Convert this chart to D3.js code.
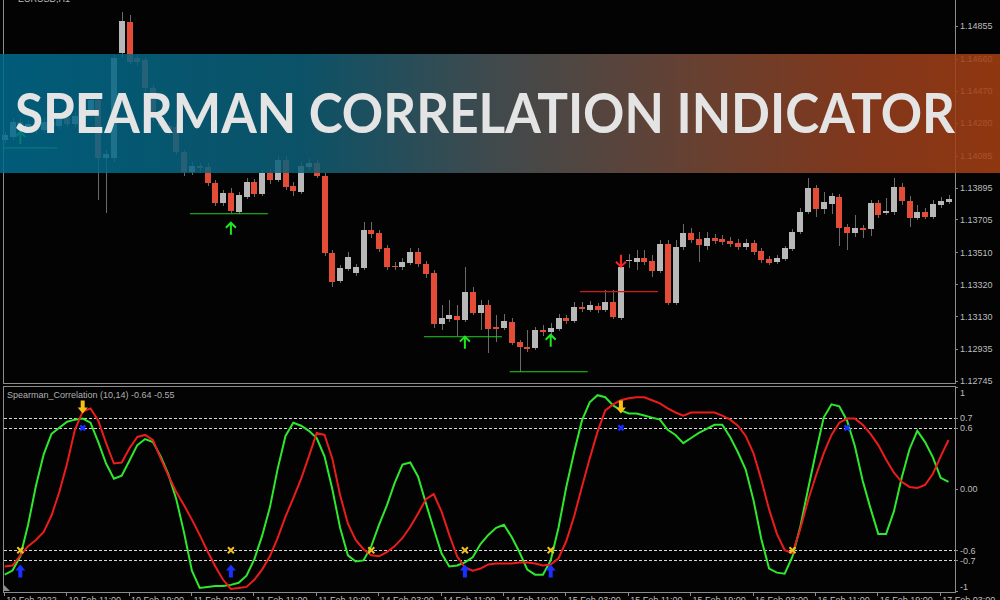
<!DOCTYPE html>

<head>
    <script src="https://d3js.org/d3.v7.min.js"></script>
</head>

<body style="margin: 0; background: #000">
    <svg width="1000" height="600"></svg>

    <script>
        // EURUSD H1 bars, 10 Feb 2022 03:00 onwards
        var opens = [1.14178, 1.14196, 1.14285, 1.14250, 1.14273, 1.14238, 1.14285, 1.14262, 1.14309, 1.14273,
            1.14321, 1.14357, 1.14416, 1.14072, 1.14072, 1.14695, 1.14879, 1.14666, 1.14654, 1.14487,
            1.14309, 1.14262, 1.14256, 1.14107, 1.13988, 1.14024, 1.14018, 1.13923, 1.13804, 1.13864,
            1.13751, 1.13840, 1.13929, 1.13858, 1.13982, 1.13941, 1.14060, 1.13905, 1.13870, 1.14018,
            1.14042, 1.13965, 1.13507, 1.13341, 1.13412, 1.13388, 1.13418, 1.13644, 1.13626, 1.13537,
            1.13430, 1.13424, 1.13448, 1.13513, 1.13442, 1.13388, 1.13085, 1.13115, 1.13133, 1.13109,
            1.13276, 1.13151, 1.13198, 1.13068, 1.13062, 1.13097, 1.12979, 1.12949, 1.12943, 1.13050,
            1.13038, 1.13056, 1.13121, 1.13103, 1.13186, 1.13169, 1.13192, 1.13169, 1.13216, 1.13121,
            1.13460, 1.13454, 1.13478, 1.13460, 1.13400, 1.13561, 1.13210, 1.13543, 1.13626, 1.13590,
            1.13549, 1.13596, 1.13590, 1.13579, 1.13567, 1.13543, 1.13567, 1.13519, 1.13472, 1.13454,
            1.13472, 1.13531, 1.13632, 1.13751, 1.13893, 1.13769, 1.13798, 1.13840, 1.13662, 1.13626,
            1.13656, 1.13650, 1.13804, 1.13745, 1.13751, 1.13899, 1.13816, 1.13715, 1.13751, 1.13721,
            1.13792, 1.13810];

        var highs = [1.14226, 1.14309, 1.14309, 1.14297, 1.14291, 1.14309, 1.14315, 1.14333, 1.14327, 1.14345,
            1.14380, 1.14440, 1.14440, 1.14119, 1.14683, 1.14939, 1.14921, 1.14683, 1.14671, 1.14505,
            1.14333, 1.14285, 1.14273, 1.14119, 1.14048, 1.14042, 1.14042, 1.13941, 1.13881, 1.13893,
            1.13870, 1.13953, 1.13947, 1.14000, 1.14006, 1.14083, 1.14083, 1.13929, 1.14048, 1.14066,
            1.14060, 1.13982, 1.13525, 1.13436, 1.13513, 1.13442, 1.13691, 1.13691, 1.13644, 1.13555,
            1.13454, 1.13478, 1.13537, 1.13537, 1.13460, 1.13406, 1.13198, 1.13228, 1.13198, 1.13424,
            1.13305, 1.13228, 1.13228, 1.13139, 1.13145, 1.13121, 1.12990, 1.13050, 1.13068, 1.13080,
            1.13091, 1.13145, 1.13139, 1.13216, 1.13216, 1.13222, 1.13210, 1.13287, 1.13287, 1.13495,
            1.13501, 1.13525, 1.13525, 1.13495, 1.13584, 1.13584, 1.13584, 1.13679, 1.13656, 1.13632,
            1.13632, 1.13620, 1.13614, 1.13602, 1.13590, 1.13590, 1.13584, 1.13537, 1.13489, 1.13495,
            1.13549, 1.13650, 1.13775, 1.13953, 1.13911, 1.13870, 1.13864, 1.13858, 1.13679, 1.13733,
            1.13674, 1.13822, 1.13822, 1.13834, 1.13953, 1.13923, 1.13846, 1.13792, 1.13775, 1.13822,
            1.13840, 1.13852];

        var lows = [1.14161, 1.14178, 1.14226, 1.14232, 1.14214, 1.14220, 1.14238, 1.14244, 1.14256, 1.14256,
            1.14303, 1.14339, 1.13822, 1.13745, 1.14048, 1.14666, 1.14630, 1.14618, 1.14464, 1.14285,
            1.14238, 1.14208, 1.14089, 1.13965, 1.13970, 1.13988, 1.13905, 1.13786, 1.13786, 1.13745,
            1.13739, 1.13828, 1.13840, 1.13846, 1.13917, 1.13929, 1.13881, 1.13846, 1.13858, 1.14000,
            1.13953, 1.13489, 1.13305, 1.13329, 1.13400, 1.13371, 1.13406, 1.13596, 1.13513, 1.13406,
            1.13406, 1.13406, 1.13436, 1.13424, 1.13359, 1.13062, 1.13050, 1.13097, 1.13014, 1.13097,
            1.13139, 1.13050, 1.12913, 1.12979, 1.13050, 1.12961, 1.12800, 1.12919, 1.12931, 1.13014,
            1.13020, 1.13044, 1.13085, 1.13091, 1.13157, 1.13157, 1.13151, 1.13157, 1.13115, 1.13109,
            1.13418, 1.13406, 1.13436, 1.13365, 1.13388, 1.13198, 1.13198, 1.13525, 1.13567, 1.13454,
            1.13525, 1.13561, 1.13555, 1.13543, 1.13525, 1.13525, 1.13495, 1.13448, 1.13436, 1.13442,
            1.13460, 1.13519, 1.13620, 1.13739, 1.13721, 1.13739, 1.13739, 1.13549, 1.13525, 1.13602,
            1.13596, 1.13608, 1.13715, 1.13733, 1.13733, 1.13792, 1.13662, 1.13703, 1.13709, 1.13709,
            1.13775, 1.13798];

        var closes = [1.14208, 1.14285, 1.14250, 1.14273, 1.14238, 1.14285, 1.14262, 1.14309, 1.14273, 1.14321,
            1.14357, 1.14416, 1.14072, 1.14095, 1.14666, 1.14885, 1.14642, 1.14642, 1.14487, 1.14309,
            1.14262, 1.14238, 1.14107, 1.13988, 1.14024, 1.14012, 1.13923, 1.13804, 1.13864, 1.13757,
            1.13852, 1.13929, 1.13858, 1.13982, 1.13941, 1.14060, 1.13899, 1.13876, 1.14024, 1.14042,
            1.13965, 1.13507, 1.13335, 1.13418, 1.13483, 1.13424, 1.13644, 1.13620, 1.13531, 1.13424,
            1.13424, 1.13454, 1.13513, 1.13442, 1.13382, 1.13085, 1.13121, 1.13139, 1.13109, 1.13276,
            1.13151, 1.13198, 1.13056, 1.13056, 1.13103, 1.12973, 1.12949, 1.12937, 1.13050, 1.13038,
            1.13062, 1.13121, 1.13103, 1.13186, 1.13175, 1.13198, 1.13169, 1.13216, 1.13127, 1.13424,
            1.13466, 1.13478, 1.13454, 1.13400, 1.13561, 1.13210, 1.13543, 1.13626, 1.13584, 1.13555,
            1.13596, 1.13579, 1.13573, 1.13561, 1.13543, 1.13567, 1.13513, 1.13466, 1.13448, 1.13478,
            1.13537, 1.13632, 1.13751, 1.13893, 1.13769, 1.13810, 1.13846, 1.13656, 1.13626, 1.13656,
            1.13644, 1.13804, 1.13733, 1.13757, 1.13899, 1.13816, 1.13715, 1.13751, 1.13721, 1.13798,
            1.13816, 1.13828];

        // Spearman correlation, fast (green) and slow (red)
        var fastCorr = [-0.84, -0.80, -0.66, -0.35, 0.03, 0.34, 0.54, 0.60, 0.66, 0.68,
            0.69, 0.65, 0.46, 0.25, 0.10, 0.13, 0.28, 0.43, 0.49, 0.46,
            0.32, 0.14, -0.10, -0.43, -0.80, -0.97, -0.96, -0.95, -0.95, -0.94,
            -0.92, -0.85, -0.69, -0.46, -0.18, 0.20, 0.52, 0.65, 0.62, 0.57,
            0.50, 0.32, 0.00, -0.38, -0.65, -0.71, -0.70, -0.56, -0.35, -0.16,
            0.06, 0.24, 0.26, 0.12, -0.14, -0.39, -0.63, -0.76, -0.75, -0.72,
            -0.67, -0.54, -0.45, -0.38, -0.35, -0.47, -0.62, -0.79, -0.84, -0.84,
            -0.70, -0.38, 0.02, 0.36, 0.67, 0.85, 0.92, 0.90, 0.82, 0.77,
            0.74, 0.74, 0.72, 0.70, 0.68, 0.58, 0.53, 0.45, 0.50, 0.55,
            0.59, 0.63, 0.63, 0.51, 0.36, 0.19, -0.11, -0.49, -0.78, -0.82,
            -0.83, -0.66, -0.37, 0.00, 0.36, 0.70, 0.83, 0.81, 0.67, 0.42,
            0.08, -0.19, -0.44, -0.44, -0.22, 0.11, 0.39, 0.57, 0.46, 0.31,
            0.11, 0.07];

        var slowCorr = [-0.76, -0.75, -0.65, -0.56, -0.50, -0.42, -0.26, -0.03, 0.25, 0.58,
            0.76, 0.79, 0.67, 0.45, 0.25, 0.26, 0.40, 0.51, 0.53, 0.48,
            0.30, 0.13, -0.03, -0.16, -0.30, -0.45, -0.61, -0.76, -0.89, -0.98,
            -0.97, -0.96, -0.89, -0.79, -0.66, -0.48, -0.27, -0.09, 0.10, 0.32,
            0.55, 0.53, 0.30, -0.06, -0.34, -0.50, -0.59, -0.65, -0.66, -0.62,
            -0.56, -0.48, -0.37, -0.24, -0.10, -0.05, -0.22, -0.45, -0.66, -0.77,
            -0.80, -0.78, -0.74, -0.73, -0.73, -0.73, -0.72, -0.72, -0.73, -0.75,
            -0.74, -0.68, -0.51, -0.27, 0.02, 0.30, 0.56, 0.77, 0.83, 0.87,
            0.89, 0.90, 0.90, 0.87, 0.84, 0.79, 0.75, 0.72, 0.75, 0.75,
            0.75, 0.75, 0.72, 0.68, 0.62, 0.52, 0.35, 0.09, -0.20, -0.44,
            -0.60, -0.63, -0.39, -0.11, 0.13, 0.35, 0.53, 0.65, 0.69, 0.69,
            0.63, 0.54, 0.43, 0.29, 0.16, 0.07, 0.02, 0.01, 0.04, 0.15,
            0.32, 0.48];

        // signals on the price chart
        var buyBars = [2, 29, 59, 70];
        var buyArrowPrice = [1.14190, 1.13650, 1.12973, 1.12984];
        var buyLevel = [1.14131, 1.13739, 1.13008, 1.12800];
        var buyLevelFrom = [0, 24, 54, 65];
        var buyLevelTo = [7, 34, 64, 75];

        var sellBars = [79];
        var sellArrowPrice = [1.13460];
        var sellLevel = [1.13276];
        var sellLevelFrom = [74];
        var sellLevelTo = [84];

        // signals on the indicator window
        var upArrowBars = [2, 29, 59, 70];
        var upArrowValue = [-0.81, -0.81, -0.81, -0.81];
        var downArrowBars = [10, 79];
        var downArrowValue = [0.81, 0.81];
        var lowCrossBars = [2, 29, 47, 59, 70, 101];
        var highCrossBars = [10, 79, 108];

        var priceTicks = [1.14855, 1.14660, 1.14470, 1.14280, 1.14085, 1.13895, 1.13705, 1.13510, 1.13320, 1.13130, 1.12935, 1.12745];
        var corrTicks = [1, 0.7, 0.6, 0, -0.6, -0.7, -1];
        var corrLevels = [0.7, 0.6, -0.6, -0.7];
        var timeTickBars = [0, 8, 16, 24, 32, 40, 48, 56, 64, 72, 80, 88, 96, 104, 112, 120];
        var timeLabels = ["10 Feb 2022", "10 Feb 11:00", "10 Feb 19:00", "11 Feb 03:00", "11 Feb 11:00", "11 Feb 19:00",
            "14 Feb 03:00", "14 Feb 11:00", "14 Feb 19:00", "15 Feb 03:00", "15 Feb 11:00", "15 Feb 19:00",
            "16 Feb 03:00", "16 Feb 11:00", "16 Feb 19:00", "17 Feb 03:00"];

        var FONT = "'Liberation Sans', Arial, sans-serif";
        var AXIS_X = 955;

        var svg = d3.select("svg");

        svg.append("rect")
            .attr("width", 1000)
            .attr("height", 600)
            .attr("fill", "#030303");

        var x = d3.scaleLinear().domain([0, opens.length - 1]).range([4.7, 948.5]);
        var yP = d3.scaleLinear().domain([1.12745, 1.14855]).range([381, 26]);
        var yI = d3.scaleLinear().domain([-1, 1]).range([591, 387]);

        var candles = opens.map(function(o, i) {
            return { i: i, o: o, h: highs[i], l: lows[i], c: closes[i] };
        });

        // Candles
        var main = svg.append("g")
            .attr("class", "candles")
            .attr("shape-rendering", "crispEdges");

        main.selectAll("line")
            .data(candles)
            .enter().append("line")
            .attr("x1", function(d) { return Math.round(x(d.i)); })
            .attr("x2", function(d) { return Math.round(x(d.i)); })
            .attr("y1", function(d) { return yP(d.h); })
            .attr("y2", function(d) { return yP(d.l); })
            .style("stroke", "#6a6a6a")
            .style("stroke-width", 1);

        main.selectAll("rect")
            .data(candles)
            .enter().append("rect")
            .attr("x", function(d) { return Math.round(x(d.i)) - 3; })
            .attr("width", 6)
            .attr("y", function(d) { return yP(Math.max(d.o, d.c)); })
            .attr("height", function(d) { return Math.max(1.5, Math.abs(yP(d.o) - yP(d.c))); })
            .attr("fill", function(d) { return d.c >= d.o ? "#b8b8b8" : "#e44c37"; });

        // Signal levels and arrows
        var sig = svg.append("g").attr("class", "signals");

        sig.selectAll(".buy-level")
            .data(buyBars)
            .enter().append("line")
            .attr("class", "buy-level")
            .attr("x1", function(d, i) { return x(buyLevelFrom[i]) - 2; })
            .attr("x2", function(d, i) { return x(buyLevelTo[i]) - 2; })
            .attr("y1", function(d, i) { return yP(buyLevel[i]); })
            .attr("y2", function(d, i) { return yP(buyLevel[i]); })
            .style("stroke", "#1fd21f")
            .style("stroke-width", 1.2);

        sig.selectAll(".sell-level")
            .data(sellBars)
            .enter().append("line")
            .attr("class", "sell-level")
            .attr("x1", function(d, i) { return x(sellLevelFrom[i]) - 2; })
            .attr("x2", function(d, i) { return x(sellLevelTo[i]) - 2; })
            .attr("y1", function(d, i) { return yP(sellLevel[i]); })
            .attr("y2", function(d, i) { return yP(sellLevel[i]); })
            .style("stroke", "#d01a1a")
            .style("stroke-width", 1.2);

        function chevron(cx, cy, dir) {
            // dir = -1 points up, 1 points down
            var tip = cy + dir * 6, tail = cy - dir * 6;
            return "M" + cx + "," + tail + "L" + cx + "," + tip +
                "M" + (cx - 5) + "," + (tip - dir * 5) + "L" + cx + "," + tip + "L" + (cx + 5) + "," + (tip - dir * 5);
        }

        sig.selectAll(".buy-arrow")
            .data(buyBars)
            .enter().append("path")
            .attr("class", "buy-arrow")
            .attr("d", function(d, i) { return chevron(x(d), yP(buyArrowPrice[i]), -1); })
            .style("fill", "none")
            .style("stroke", "#22e622")
            .style("stroke-width", 2);

        sig.selectAll(".sell-arrow")
            .data(sellBars)
            .enter().append("path")
            .attr("class", "sell-arrow")
            .attr("d", function(d, i) { return chevron(x(d), yP(sellArrowPrice[i]), 1); })
            .style("fill", "none")
            .style("stroke", "#ff2222")
            .style("stroke-width", 2);

        // Frames
        var frame = svg.append("g")
            .attr("class", "frame")
            .attr("shape-rendering", "crispEdges")
            .style("stroke", "#8c8c8c")
            .style("stroke-width", 1);

        frame.append("line").attr("x1", 3.5).attr("x2", 3.5).attr("y1", 0).attr("y2", 383);
        frame.append("line").attr("x1", 3.5).attr("x2", 3.5).attr("y1", 386).attr("y2", 592);
        frame.append("line").attr("x1", 3).attr("x2", AXIS_X).attr("y1", 383.5).attr("y2", 383.5);
        frame.append("line").attr("x1", 3).attr("x2", AXIS_X).attr("y1", 386.5).attr("y2", 386.5);
        frame.append("line").attr("x1", 3).attr("x2", AXIS_X).attr("y1", 592.5).attr("y2", 592.5);
        frame.append("line").attr("x1", AXIS_X + 0.5).attr("x2", AXIS_X + 0.5).attr("y1", 0).attr("y2", 384);
        frame.append("line").attr("x1", AXIS_X + 0.5).attr("x2", AXIS_X + 0.5).attr("y1", 386).attr("y2", 593);

        svg.append("path")
            .attr("d", "M4,585L4,591L10,591Z")
            .attr("fill", "#8c8c8c");

        function styleAxis(g) {
            g.select(".domain").remove();
            g.selectAll(".tick line").style("stroke", "#8c8c8c").attr("shape-rendering", "crispEdges");
            g.selectAll(".tick text")
                .style("fill", "#bdbdbd")
                .style("font-family", FONT)
                .style("font-size", "9px");
        }

        // Price axis
        svg.append("g")
            .attr("class", "price-axis")
            .attr("transform", "translate(" + AXIS_X + ",0)")
            .call(d3.axisRight(yP)
                .tickValues(priceTicks)
                .tickSize(3)
                .tickPadding(2)
                .tickFormat(d3.format(".5f")))
            .call(styleAxis);

        // Indicator window
        var ind = svg.append("g").attr("class", "indicator");

        svg.append("clipPath")
            .attr("id", "ind-clip")
            .append("rect")
            .attr("x", 4)
            .attr("y", 387)
            .attr("width", AXIS_X - 4)
            .attr("height", 205);

        ind.selectAll(".level")
            .data(corrLevels)
            .enter().append("line")
            .attr("class", "level")
            .attr("x1", 4)
            .attr("x2", AXIS_X)
            .attr("y1", function(d) { return Math.round(yI(d)) + 0.5; })
            .attr("y2", function(d) { return Math.round(yI(d)) + 0.5; })
            .style("stroke", "#d8d8d8")
            .style("stroke-width", 1)
            .style("stroke-dasharray", "3,2");

        var line = d3.line()
            .x(function(d, i) { return x(i); })
            .y(function(d) { return yI(d); });

        ind.append("path")
            .datum(fastCorr)
            .attr("clip-path", "url(#ind-clip)")
            .attr("d", line)
            .style("fill", "none")
            .style("stroke", "#2ee82e")
            .style("stroke-width", 2);

        ind.append("path")
            .datum(slowCorr)
            .attr("clip-path", "url(#ind-clip)")
            .attr("d", line)
            .style("fill", "none")
            .style("stroke", "#ec1c1c")
            .style("stroke-width", 2);

        function fatArrow(cx, cy, dir) {
            // dir = -1 points up, 1 points down
            var tip = cy + dir * 7, neck = cy + dir * 1, tail = cy - dir * 6;
            return "M" + cx + "," + tip +
                "L" + (cx + 5) + "," + neck + "L" + (cx + 2) + "," + neck +
                "L" + (cx + 2) + "," + tail + "L" + (cx - 2) + "," + tail +
                "L" + (cx - 2) + "," + neck + "L" + (cx - 5) + "," + neck + "Z";
        }

        function cross(cx, cy, r) {
            return "M" + (cx - r) + "," + (cy - r) + "L" + (cx + r) + "," + (cy + r) +
                "M" + (cx - r) + "," + (cy + r) + "L" + (cx + r) + "," + (cy - r);
        }

        ind.selectAll(".low-cross")
            .data(lowCrossBars)
            .enter().append("path")
            .attr("class", "low-cross")
            .attr("d", function(d) { return cross(x(d), yI(-0.6), 3); })
            .style("stroke", "#f0c020")
            .style("stroke-width", 2);

        ind.selectAll(".high-cross")
            .data(highCrossBars)
            .enter().append("path")
            .attr("class", "high-cross")
            .attr("d", function(d) { return cross(x(d), yI(0.6), 2.5); })
            .style("stroke", "#1a2cff")
            .style("stroke-width", 2.5);

        ind.selectAll(".up-arrow")
            .data(upArrowBars)
            .enter().append("path")
            .attr("class", "up-arrow")
            .attr("d", function(d, i) { return fatArrow(x(d), yI(upArrowValue[i]), -1); })
            .attr("fill", "#1a30ff");

        ind.selectAll(".down-arrow")
            .data(downArrowBars)
            .enter().append("path")
            .attr("class", "down-arrow")
            .attr("d", function(d, i) { return fatArrow(x(d), yI(downArrowValue[i]), 1); })
            .attr("fill", "#f5c010");

        ind.append("text")
            .attr("x", 7)
            .attr("y", 398)
            .style("fill", "#b0b0b0")
            .style("font-family", FONT)
            .style("font-size", "9px")
            .text("Spearman_Correlation (10,14) -0.64 -0.55");

        var corrAxis = svg.append("g")
            .attr("class", "corr-axis")
            .attr("transform", "translate(" + AXIS_X + ",0)")
            .call(d3.axisRight(yI)
                .tickValues(corrTicks)
                .tickSize(3)
                .tickPadding(2)
                .tickFormat(function(d) {
                    return d === 0 ? "0.00" : String(d);
                }))
            .call(styleAxis);

        // nudge the end labels inside the window
        corrAxis.selectAll(".tick text")
            .attr("dy", function(d) {
                if (d === 1) return "0.9em";
                if (d === -1) return "-0.2em";
                return "0.32em";
            });

        // Time axis
        svg.append("g")
            .attr("class", "time-axis")
            .attr("transform", "translate(-1,592)")
            .call(d3.axisBottom(x)
                .tickValues(timeTickBars)
                .tickSize(4)
                .tickPadding(1)
                .tickFormat(function(d, i) {
                    return timeLabels[i];
                }))
            .call(styleAxis)
            .selectAll(".tick text")
            .attr("text-anchor", "start")
            .attr("x", 2);

        svg.append("text")
            .attr("x", 18)
            .attr("y", 2)
            .style("fill", "#bdbdbd")
            .style("font-family", FONT)
            .style("font-size", "9px")
            .text("EURUSD,H1");

        // Title banner over the chart
        var grad = svg.append("defs")
            .append("linearGradient")
            .attr("id", "banner-grad")
            .attr("x1", "0%")
            .attr("x2", "100%");

        var stops = [
            [0, "#006a8c"],
            [0.3, "#0c5f78"],
            [0.5, "#4c5558"],
            [0.7, "#784a38"],
            [0.87, "#973f1e"],
            [1, "#a63f12"]
        ];

        grad.selectAll("stop")
            .data(stops)
            .enter().append("stop")
            .attr("offset", function(d) { return d[0]; })
            .attr("stop-color", function(d) { return d[1]; });

        svg.append("rect")
            .attr("x", 0)
            .attr("y", 54)
            .attr("width", 1000)
            .attr("height", 119)
            .attr("fill", "url(#banner-grad)")
            .attr("fill-opacity", 0.86);

        svg.append("text")
            .attr("x", 15)
            .attr("y", 133)
            .attr("textLength", 940)
            .attr("lengthAdjust", "spacingAndGlyphs")
            .style("fill", "#e4e4e4")
            .style("font-family", "Lato, 'Open Sans', sans-serif")
            .style("font-weight", 700)
            .style("font-size", "55px")
            .text("SPEARMAN CORRELATION INDICATOR");

    </script>

</body>
